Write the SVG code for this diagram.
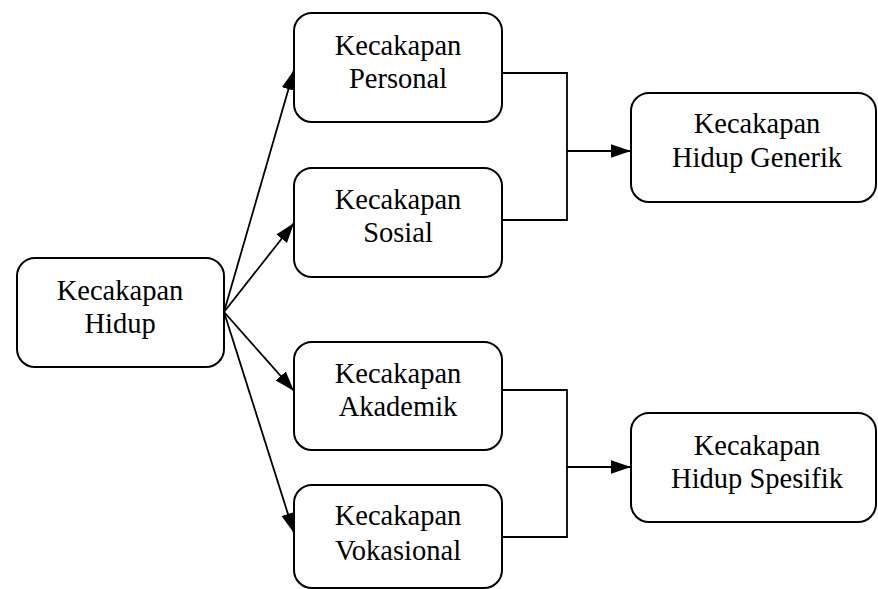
<svg xmlns="http://www.w3.org/2000/svg" width="878" height="589" viewBox="0 0 878 589">
<style>
.box{fill:#fff;stroke:#000;stroke-width:2}
.t{font-size:28.5px;fill:#000;text-anchor:middle}
.c{fill:none;stroke:#000;stroke-width:1.8}
</style>
<defs>
<marker id="ah2" viewBox="0 0 10 10" refX="10" refY="5" markerWidth="20" markerHeight="20" orient="auto" markerUnits="userSpaceOnUse">
<path d="M0,1.6 L10,5 L0,8.4 z" fill="#000"/>
</marker>
</defs>
<g id="connectors">
<line class="c" x1="224" y1="312" x2="294" y2="70" marker-end="url(#ah2)"/>
<line class="c" x1="224" y1="312" x2="294" y2="223" marker-end="url(#ah2)"/>
<line class="c" x1="224" y1="312" x2="294" y2="391" marker-end="url(#ah2)"/>
<line class="c" x1="224" y1="312" x2="294" y2="533" marker-end="url(#ah2)"/>
<polyline class="c" points="502,73 567,73 567,220 502,220"/>
<line class="c" x1="567" y1="151" x2="631" y2="151" marker-end="url(#ah2)"/>
<polyline class="c" points="502,390 567,390 567,537 502,537"/>
<line class="c" x1="567" y1="467" x2="631" y2="467" marker-end="url(#ah2)"/>
</g>
<g font-family="Liberation Serif, Tinos, DejaVu Serif, serif">
<g id="hidup">
<rect class="box" x="17" y="258" width="207" height="109" rx="18"/>
<text class="t" x="120" y="300">Kecakapan</text>
<text class="t" x="120" y="333">Hidup</text>
</g>
<g id="personal">
<rect class="box" x="294" y="13" width="208" height="109" rx="18"/>
<text class="t" x="398" y="55">Kecakapan</text>
<text class="t" x="398" y="88">Personal</text>
</g>
<g id="sosial">
<rect class="box" x="294" y="168" width="208" height="109" rx="18"/>
<text class="t" x="398" y="209">Kecakapan</text>
<text class="t" x="398" y="242">Sosial</text>
</g>
<g id="akademik">
<rect class="box" x="294" y="342" width="208" height="108" rx="18"/>
<text class="t" x="398" y="383">Kecakapan</text>
<text class="t" x="398" y="416">Akademik</text>
</g>
<g id="vokasional">
<rect class="box" x="294" y="485" width="208" height="103" rx="18"/>
<text class="t" x="398" y="525">Kecakapan</text>
<text class="t" x="398" y="560">Vokasional</text>
</g>
<g id="generik">
<rect class="box" x="631" y="93" width="245" height="109" rx="18"/>
<text class="t" x="757" y="133">Kecakapan</text>
<text class="t" x="757" y="167">Hidup Generik</text>
</g>
<g id="spesifik">
<rect class="box" x="631" y="413" width="245" height="109" rx="18"/>
<text class="t" x="757" y="455">Kecakapan</text>
<text class="t" x="757" y="488">Hidup Spesifik</text>
</g>
</g>
</svg>
